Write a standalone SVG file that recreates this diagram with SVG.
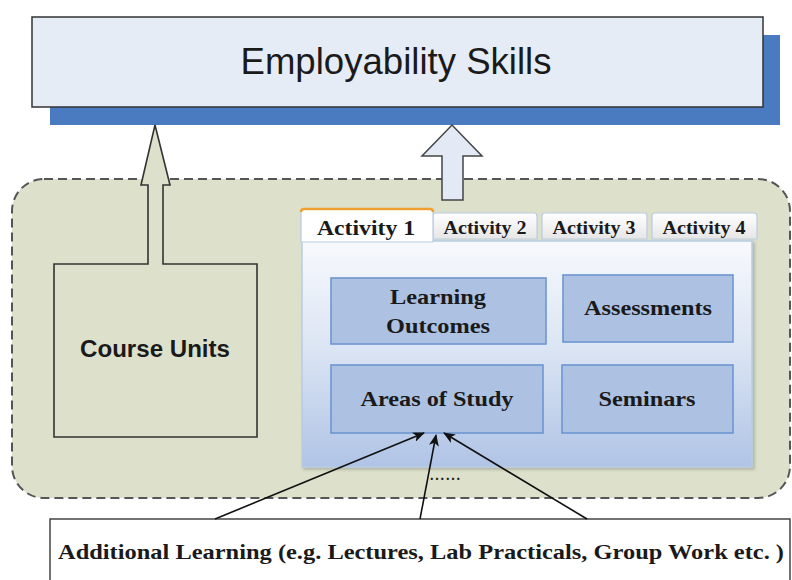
<svg xmlns="http://www.w3.org/2000/svg" width="792" height="580" viewBox="0 0 792 580">
  <defs>
    <style>
      .sans { font-family: "Liberation Sans", Arial, sans-serif; }
      .serif { font-family: "Liberation Serif", "Times New Roman", serif; font-weight: bold; fill: #1a1a1a; }
      .item { fill: #adc1e2; stroke: #6d96d2; stroke-width: 1.6; }
      .tab { fill: url(#tabGrad); stroke: #b9cbe3; stroke-width: 1.2; }
      .link { stroke: #111; stroke-width: 1.6; fill: none; marker-end: url(#head); }
    </style>
    <linearGradient id="panelGrad" x1="0" y1="0" x2="0" y2="1">
      <stop offset="0" stop-color="#f7f9fd"/>
      <stop offset="0.45" stop-color="#dde6f4"/>
      <stop offset="1" stop-color="#b0c4e6"/>
    </linearGradient>
    <linearGradient id="tabGrad" x1="0" y1="0" x2="0" y2="1">
      <stop offset="0" stop-color="#ffffff"/>
      <stop offset="1" stop-color="#e6e6e6"/>
    </linearGradient>
    <marker id="head" viewBox="0 0 12 10" refX="11" refY="5" markerWidth="12" markerHeight="10" markerUnits="userSpaceOnUse" orient="auto">
      <path d="M0,0 L12,5 L0,10 L3,5 Z" fill="#111"/>
    </marker>
    <filter id="soft" x="-5%" y="-5%" width="110%" height="110%">
      <feDropShadow dx="2" dy="2" stdDeviation="1.5" flood-color="#000" flood-opacity="0.2"/>
    </filter>
  </defs>

  <!-- dashed container region -->
  <g id="container">
    <rect x="12" y="179" width="778" height="319" rx="32" ry="32" fill="#dde1cb" stroke="#555" stroke-width="2" stroke-dasharray="9,5"/>
  </g>

  <!-- top node -->
  <g id="employability">
    <rect x="50" y="35" width="730" height="90" fill="#4a7bc1"/>
    <rect x="32" y="17" width="731" height="90" fill="#e6ecf6" stroke="#333" stroke-width="1.5"/>
    <text x="396" y="74" class="sans" font-size="37" text-anchor="middle" fill="#1a1a1a" textLength="311" lengthAdjust="spacingAndGlyphs">Employability Skills</text>
  </g>

  <!-- course units with upward block arrow -->
  <g id="course-units">
    <path d="M54,264 L148,264 L148,185 L141,185 L155,125 L170,185 L163,185 L163,264 L257,264 L257,437 L54,437 Z" fill="#dde1cb" stroke="#333" stroke-width="1.6" stroke-linejoin="miter"/>
    <text x="155" y="357" class="sans" font-size="23" font-weight="bold" text-anchor="middle" fill="#1a1a1a" textLength="150" lengthAdjust="spacingAndGlyphs">Course Units</text>
  </g>

  <!-- block arrow from the activity panel -->
  <g id="activity-arrow">
    <path d="M442,200 L442,156 L422,156 L452,125 L482,156 L463,156 L463,200 Z" fill="#e3e9f5" stroke="#444" stroke-width="1.5"/>
  </g>

  <g id="activities">
    <rect x="302" y="241" width="450" height="226" fill="url(#panelGrad)" stroke="#b9cbe3" stroke-width="1.5" filter="url(#soft)"/>
    <g id="tab-2">
      <path class="tab" d="M433,239 L433,216 Q433,213 436,213 L534,213 Q537,213 537,216 L537,239 Z"/>
      <text x="485" y="234" class="serif" font-size="19" text-anchor="middle" textLength="83" lengthAdjust="spacingAndGlyphs">Activity 2</text>
    </g>
    <g id="tab-3">
      <path class="tab" d="M542,239 L542,216 Q542,213 545,213 L644,213 Q647,213 647,216 L647,239 Z"/>
      <text x="594" y="234" class="serif" font-size="19" text-anchor="middle" textLength="83" lengthAdjust="spacingAndGlyphs">Activity 3</text>
    </g>
    <g id="tab-4">
      <path class="tab" d="M652,239 L652,216 Q652,213 655,213 L754,213 Q757,213 757,216 L757,239 Z"/>
      <text x="704" y="234" class="serif" font-size="19" text-anchor="middle" textLength="83" lengthAdjust="spacingAndGlyphs">Activity 4</text>
    </g>
    <g id="tab-1">
      <path d="M301,242 L301,212 Q301,209 304,209 L430,209 Q433,209 433,212 L433,242 Z" fill="#ffffff" stroke="#b9cbe3" stroke-width="1.2"/>
      <path d="M301,212 Q301,209 304,209 L430,209 Q433,209 433,212" fill="none" stroke="#f0a030" stroke-width="2.5"/>
      <text x="366" y="235" class="serif" font-size="22" text-anchor="middle" textLength="98" lengthAdjust="spacingAndGlyphs">Activity 1</text>
    </g>

    <g id="learning-outcomes">
      <rect class="item" x="331" y="278" width="215" height="66"/>
      <text x="438" y="304" class="serif" font-size="22" text-anchor="middle" textLength="96" lengthAdjust="spacingAndGlyphs">Learning</text>
      <text x="438" y="333" class="serif" font-size="22" text-anchor="middle" textLength="104" lengthAdjust="spacingAndGlyphs">Outcomes</text>
    </g>
    <g id="assessments">
      <rect class="item" x="563" y="275" width="170" height="67"/>
      <text x="648" y="315" class="serif" font-size="22" text-anchor="middle" textLength="128" lengthAdjust="spacingAndGlyphs">Assessments</text>
    </g>
    <g id="areas-of-study">
      <rect class="item" x="331" y="365" width="212" height="68"/>
      <text x="437" y="406" class="serif" font-size="22" text-anchor="middle" textLength="153" lengthAdjust="spacingAndGlyphs">Areas of Study</text>
    </g>
    <g id="seminars">
      <rect class="item" x="562" y="365" width="171" height="68"/>
      <text x="647" y="406" class="serif" font-size="22" text-anchor="middle" textLength="97" lengthAdjust="spacingAndGlyphs">Seminars</text>
    </g>
  </g>

  <text x="445" y="480" class="serif" font-size="14" text-anchor="middle" textLength="30" lengthAdjust="spacing">......</text>

  <!-- bottom node -->
  <g id="additional-learning">
    <rect x="50" y="519" width="740" height="70" fill="#ffffff" stroke="#444" stroke-width="1.5"/>
    <text x="421" y="559" class="serif" font-size="22" text-anchor="middle" textLength="726" lengthAdjust="spacingAndGlyphs">Additional Learning (e.g. Lectures, Lab Practicals, Group Work etc. )</text>
  </g>

  <!-- connectors -->
  <g id="connectors">
    <line class="link" x1="215" y1="519" x2="424" y2="433"/>
    <line class="link" x1="420" y1="519" x2="436" y2="435"/>
    <line class="link" x1="587" y1="519" x2="444" y2="433"/>
  </g>
</svg>
